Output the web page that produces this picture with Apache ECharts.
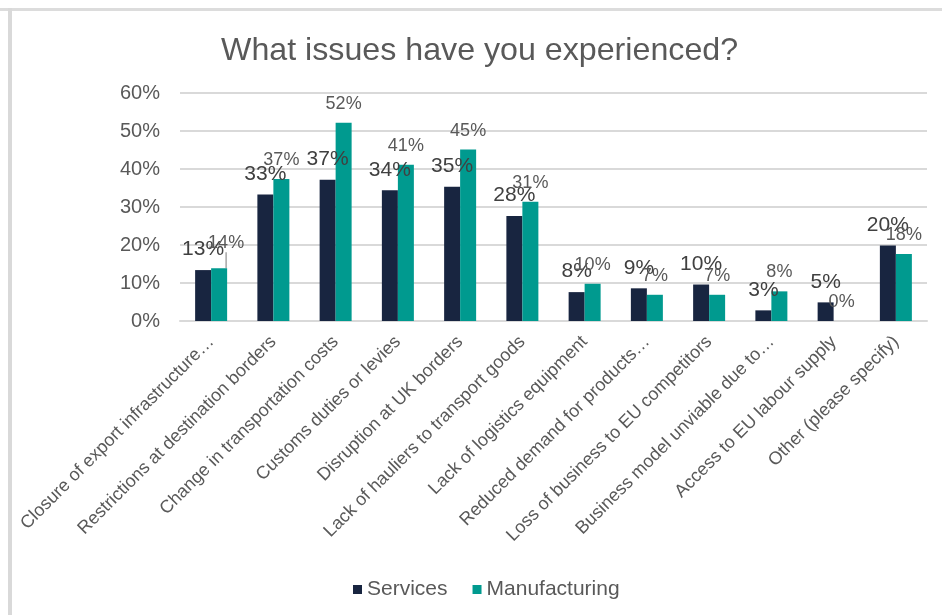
<!DOCTYPE html>
<html><head><meta charset="utf-8">
<script src="https://cdn.jsdelivr.net/npm/echarts@6/dist/echarts.min.js"></script>
<style>html,body{margin:0;padding:0;background:#fff}#c{width:942px;height:615px}</style>
</head><body><div id="c"></div>
<script>
const categories = [
  'Closure of export infrastructure…',
  'Restrictions at destination borders',
  'Change in transportation costs',
  'Customs duties or levies',
  'Disruption at UK borders',
  'Lack of hauliers to transport goods',
  'Lack of logistics equipment',
  'Reduced demand for products…',
  'Loss of business to EU competitors',
  'Business model unviable due to…',
  'Access to EU labour supply',
  'Other (please specify)'
];
const services      = [13.4, 33.3, 37.2, 34.4, 35.3, 27.6, 7.6, 8.6, 9.6, 2.8, 4.9, 19.9];
const manufacturing = [13.9, 37.4, 52.2, 41.1, 45.1, 31.4, 9.8, 6.9, 6.9, 7.8, 0, 17.6];
const yTickLabels   = ['0%','10%','20%','30%','40%','50%','60%'];

const FONT = '"Liberation Sans", Arial, sans-serif';
const chart = echarts.init(document.getElementById('c'), null, {renderer: 'canvas'});
const pct = p => Math.round(p.value) + '%';

const manuData = manufacturing.map((v, i) =>
  i === 0 ? {value: v, labelLine: {show: true}} : v);

chart.setOption({
  backgroundColor: '#ffffff',
  animation: false,
  textStyle: {fontFamily: FONT},
  title: {
    text: 'What issues have you experienced?',
    left: 216, top: 30,
    textStyle: {fontFamily: FONT, fontSize: 32.2, fontWeight: 'normal', color: '#595959'}
  },
  graphic: [
    {type: 'rect', shape: {x: 0, y: 8, width: 942, height: 3}, style: {fill: '#dcdcdc'}, silent: true},
    {type: 'rect', shape: {x: 8, y: 8, width: 4, height: 607}, style: {fill: '#d9d9d9'}, silent: true}
  ],
  legend: {
    data: ['Services', 'Manufacturing'],
    left: 348, top: 574,
    itemWidth: 9, itemHeight: 9, itemGap: 25,
    icon: 'rect',
    textStyle: {fontFamily: FONT, fontSize: 21, color: '#595959'}
  },
  grid: {left: 180, right: 15, top: 93, bottom: 294, containLabel: false},
  xAxis: {
    type: 'category',
    data: categories,
    axisLine: {show: true, lineStyle: {color: '#d9d9d9', width: 2}},
    axisTick: {show: false},
    axisLabel: {interval: 0, rotate: 45, margin: 18, fontFamily: FONT, fontSize: 18, color: '#595959'}
  },
  yAxis: {
    type: 'value',
    min: 0, max: 60, interval: 10,
    axisLine: {show: false},
    axisTick: {show: false},
    splitLine: {lineStyle: {color: '#d9d9d9', width: 2}},
    axisLabel: {
      margin: 20, fontFamily: FONT, fontSize: 20, color: '#595959',
      formatter: v => yTickLabels[Math.round(v / 10)]
    }
  },
  series: [
    {
      name: 'Services', type: 'bar', data: services,
      barWidth: 16, barGap: '0%',
      itemStyle: {color: '#182540'},
      label: {show: true, position: 'top', distance: 10, formatter: pct,
              fontFamily: FONT, fontSize: 21, color: '#404040'}
    },
    {
      name: 'Manufacturing', type: 'bar', data: manuData,
      barWidth: 16, barGap: '0%',
      itemStyle: {color: '#009a8f'},
      label: {show: true, position: 'top', distance: 10, formatter: pct,
              fontFamily: FONT, fontSize: 18, color: '#595959'},
      labelLine: {show: false, lineStyle: {color: '#a6a6a6', width: 1.5}},
      labelLayout: function (p) {
        if (p.dataIndex === 0) return {dx: 7, dy: -6};
        return {};
      }
    }
  ]
});
</script>
</body></html>
